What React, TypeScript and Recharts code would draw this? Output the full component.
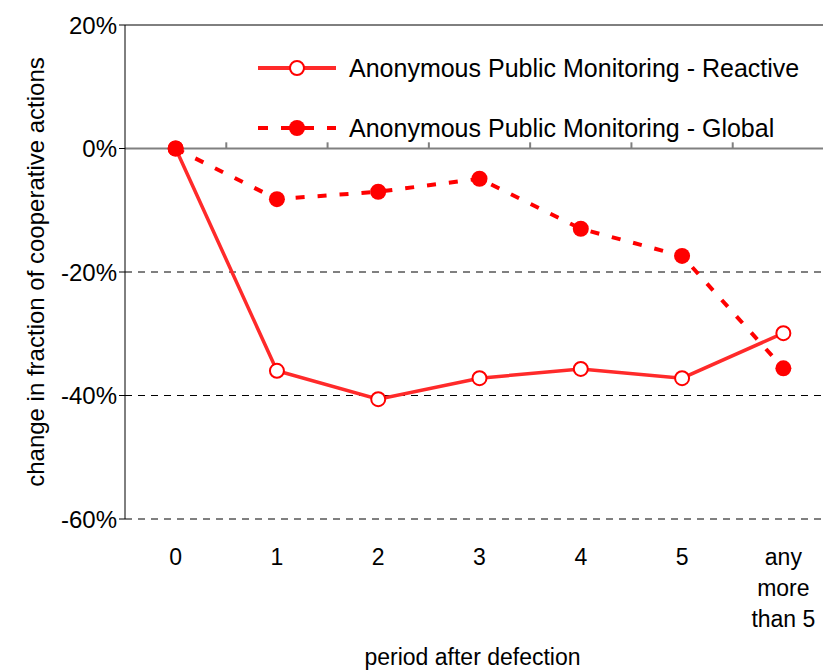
import React from 'react';
import { LineChart, Line, XAxis, YAxis, ReferenceLine, Legend, Label } from 'recharts';

const FONT = '"Liberation Sans", Arial, sans-serif';

// periods after the defection (last one is the catch-all bucket)
const periods = ['0', '1', '2', '3', '4', '5', 'any\nmore\nthan 5'];
const reactiveValues = [0, -36.0, -40.6, -37.2, -35.7, -37.2, -29.9];
const globalValues = [0, -8.2, -7.0, -4.9, -13.0, -17.4, -35.6];
const yTicks = [-60, -40, -20, 0, 20];
const dashedLevels = [-20, -40, -60];
const legendOrder = ['reactive', 'global'];

const data = periods.map((period, i) => ({
  period,
  reactive: reactiveValues[i],
  global: globalValues[i],
}));

const PeriodTick = (props: any) => {
  const { x, y, payload } = props;
  const lines = String(payload.value).split('\n');
  return (
    <text x={x} y={y} textAnchor="middle" fontSize={23} fill="#000" fontFamily={FONT}>
      {lines.map((line, i) => (
        <tspan key={i} x={x} dy={i === 0 ? 38 : 31}>
          {line}
        </tspan>
      ))}
    </text>
  );
};

const LegendIcon = ({ kind }: { kind: string }) =>
  kind === 'reactive' ? (
    <svg width={80} height={20} style={{ marginRight: 12 }}>
      <line x1={1} y1={10} x2={79} y2={10} stroke="#ff2a2a" strokeWidth={4} />
      <circle cx={40} cy={10} r={7} fill="#fff" stroke="#ff0000" strokeWidth={2} />
    </svg>
  ) : (
    <svg width={80} height={20} style={{ marginRight: 12 }}>
      <line x1={1} y1={10} x2={79} y2={10} stroke="#ff0000" strokeWidth={4} strokeDasharray="10 13" />
      <line x1={28} y1={10} x2={52} y2={10} stroke="#ff0000" strokeWidth={4} />
      <circle cx={40} cy={10} r={8} fill="#ff0000" />
    </svg>
  );

const LegendContent = ({ payload }: any) => {
  const items = [...(payload || [])].sort(
    (a: any, b: any) => legendOrder.indexOf(a.dataKey) - legendOrder.indexOf(b.dataKey)
  );
  return (
    <div style={{ fontFamily: FONT, fontSize: 25, color: '#000' }}>
      {items.map((entry: any) => (
        <div key={entry.dataKey} style={{ display: 'flex', alignItems: 'center', height: 60 }}>
          <LegendIcon kind={entry.dataKey} />
          <span>{entry.value}</span>
        </div>
      ))}
    </div>
  );
};

export default function App() {
  return (
    <div style={{ position: 'absolute', left: 0, top: 0, width: 823, height: 671, overflow: 'hidden', background: '#fff' }}>
      <LineChart width={840} height={671} data={data} margin={{ top: 25, right: 6, left: 0, bottom: 0 }}>
        <XAxis
          dataKey="period"
          scale="band"
          height={152}
          axisLine={false}
          tickLine={false}
          tickSize={6}
          tickMargin={2}
          interval={0}
          tick={<PeriodTick />}
        >
          <Label
            content={({ viewBox }: any) => (
              <text
                x={viewBox.x + viewBox.width / 2 - 7}
                y={viewBox.y + 146}
                textAnchor="middle"
                fontSize={23}
                fill="#000"
                fontFamily={FONT}
              >
                period after defection
              </text>
            )}
          />
        </XAxis>
        <YAxis
          width={125}
          domain={[-60, 20]}
          ticks={yTicks}
          tickFormatter={(v: number) => `${v}%`}
          axisLine={{ stroke: '#000', strokeWidth: 1 }}
          tickLine={{ stroke: '#000' }}
          tickSize={6}
          tickMargin={2}
          tick={{ fill: '#000', fontSize: 24, fontFamily: FONT }}
        >
          <Label
            content={({ viewBox }: any) => {
              const cx = viewBox.x + 35;
              const cy = viewBox.y + viewBox.height / 2;
              return (
                <text
                  x={cx}
                  y={cy}
                  transform={`rotate(-90, ${cx}, ${cy})`}
                  textAnchor="middle"
                  dominantBaseline="central"
                  fontSize={24}
                  fill="#000"
                  fontFamily={FONT}
                >
                  change in fraction of cooperative actions
                </text>
              );
            }}
          />
        </YAxis>
        {dashedLevels.map((v) => (
          <ReferenceLine key={v} y={v} stroke="#000" strokeDasharray="7 6" strokeWidth={1} />
        ))}
        <ReferenceLine y={20} stroke="#000" strokeWidth={1} />
        <ReferenceLine y={0} stroke="#808080" strokeWidth={2} />
        {periods.slice(1).map((p) => (
          <ReferenceLine
            key={p}
            position="start"
            segment={[
              { x: p, y: 0 },
              { x: p, y: 1 },
            ]}
            stroke="#808080"
            strokeWidth={2}
          />
        ))}
        <Legend
          layout="vertical"
          align="center"
          verticalAlign="middle"
          content={<LegendContent />}
          wrapperStyle={{ position: 'absolute', top: 38, left: 257, width: 'auto' }}
        />
        <Line
          dataKey="reactive"
          name="Anonymous Public Monitoring - Reactive"
          type="linear"
          stroke="#ff2a2a"
          strokeWidth={3.5}
          dot={{ r: 7, fill: '#fff', stroke: '#ff0000', strokeWidth: 2 }}
          isAnimationActive={false}
        />
        <Line
          dataKey="global"
          name="Anonymous Public Monitoring - Global"
          type="linear"
          stroke="#ff0000"
          strokeWidth={4}
          strokeDasharray="9 13"
          dot={{ r: 8, fill: '#ff0000', stroke: 'none' }}
          isAnimationActive={false}
        />
      </LineChart>
    </div>
  );
}
